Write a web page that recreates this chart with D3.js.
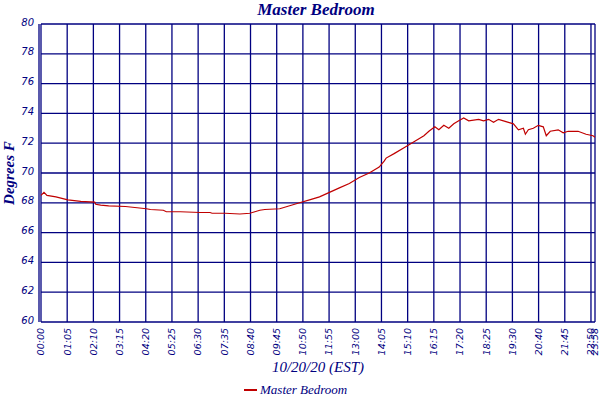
<!DOCTYPE html><html><head><meta charset="utf-8"><script src="https://cdn.jsdelivr.net/npm/d3@7"></script>
<style>body{margin:0;background:#fff}</style></head><body><svg id="c" width="600" height="400"></svg><script>
const tickLabels=["00:00","01:05","02:10","03:15","04:20","05:25","06:30","07:35","08:40","09:45","10:50","11:55","13:00","14:05","15:10","16:15","17:20","18:25","19:30","20:40","21:45","22:50","23:58"];
const tickPos=[0,65,130,195,260,325,390,455,520,585,650,715,780,845,910,975,1040,1105,1170,1235,1300,1365,1375];
const yTicks=[60,62,64,66,68,70,72,74,76,78,80];
const pxX=[40,43,46,55,67,80,94,95,100,108,125,146,150,163,166,180,200,210,212,225,240,250,255,260,265,280,290,300,310,320,330,340,350,360,370,380,385,387,395,405,415,425,430,436,440,445,450,455,460,465,470,480,485,490,495,500,505,510,515,520,525,527,530,535,540,545,548,552,560,565,570,580,588,595,597];
const temps=[68.5,68.7,68.5,68.4,68.2,68.1,68.05,67.9,67.85,67.8,67.75,67.6,67.55,67.5,67.4,67.4,67.35,67.35,67.3,67.3,67.25,67.3,67.4,67.5,67.55,67.6,67.8,68.0,68.2,68.4,68.7,69.0,69.3,69.7,70.0,70.4,70.8,71.0,71.3,71.7,72.1,72.5,72.8,73.1,72.9,73.2,73.0,73.3,73.5,73.7,73.5,73.6,73.5,73.6,73.4,73.6,73.5,73.4,73.3,72.9,73.0,72.6,72.9,73.0,73.2,73.1,72.5,72.8,72.9,72.7,72.8,72.8,72.6,72.5,72.4];
const minutes=pxX.map(p=>(p-40)*1375/557);
const navy="#000080";
const svg=d3.select("#c");
const x=d3.scaleLinear().domain([0,1375]).range([41,595]);
const y=d3.scaleLinear().domain([60,80]).range([322,24]);
const g=svg.append("g");
yTicks.forEach(v=>g.append("line").attr("x1",41).attr("x2",595).attr("y1",y(v)).attr("y2",y(v)).attr("stroke",navy).attr("stroke-width",1.3));
tickPos.forEach(v=>g.append("line").attr("x1",x(v)).attr("x2",x(v)).attr("y1",24).attr("y2",322).attr("stroke",navy).attr("stroke-width",1.3));
g.append("line").attr("x1",39).attr("x2",39).attr("y1",24).attr("y2",322).attr("stroke",navy).attr("stroke-width",1.3);
svg.append("path").datum(minutes.map((m,i)=>[m,temps[i]])).attr("fill","none").attr("stroke","#c00000").attr("stroke-width",1.2)
 .attr("d",d3.line().x(d=>x(d[0])).y(d=>y(d[1])));
const yAx=svg.append("g").attr("transform","translate(39,0)").call(d3.axisLeft(y).tickValues(yTicks).tickSize(0).tickPadding(5).tickFormat(d3.format("d")));
yAx.select(".domain").remove();
yAx.selectAll("text").attr("fill",navy).attr("font-family","DejaVu Sans").attr("font-style","italic").attr("font-size",10).attr("dy","0.1em");
const xAx=svg.append("g").attr("transform","translate(0,324)").call(d3.axisBottom(x).tickValues(tickPos).tickSize(0).tickFormat((d,i)=>tickLabels[i]));
xAx.select(".domain").remove();
xAx.selectAll("text").attr("fill",navy).attr("font-family","DejaVu Sans").attr("font-style","italic").attr("font-size",9.5)
 .attr("transform","rotate(-90)").attr("text-anchor","end").attr("x",-4).attr("y",0).attr("dy","0.3em");
const serif="Liberation Serif";
svg.append("text").attr("x",316).attr("y",15).attr("text-anchor","middle").attr("fill",navy).attr("font-family",serif).attr("font-style","italic").attr("font-weight","bold").attr("font-size",17).text("Master Bedroom");
svg.append("text").attr("transform","translate(14,173) rotate(-90)").attr("text-anchor","middle").attr("fill",navy).attr("font-family",serif).attr("font-style","italic").attr("font-weight","bold").attr("font-size",15).text("Degrees F");
svg.append("text").attr("x",318).attr("y",372).attr("text-anchor","middle").attr("fill",navy).attr("font-family",serif).attr("font-style","italic").attr("font-size",15).text("10/20/20 (EST)");
svg.append("line").attr("x1",244).attr("x2",257).attr("y1",390).attr("y2",390).attr("stroke","#c00000").attr("stroke-width",2);
svg.append("text").attr("x",260).attr("y",394).attr("fill",navy).attr("font-family",serif).attr("font-style","italic").attr("font-size",13).text("Master Bedroom");
</script></body></html>
